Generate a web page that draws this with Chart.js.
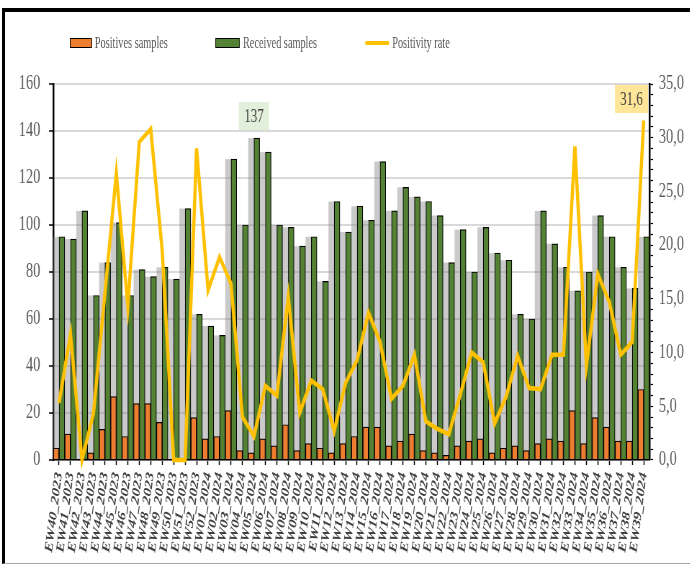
<!DOCTYPE html>
<html>
<head>
<meta charset="utf-8">
<script src="https://cdn.jsdelivr.net/npm/chart.js@4.4.0/dist/chart.umd.min.js"></script>
<style>
  body { margin: 0; background: #fff; width: 690px; height: 565px; overflow: hidden; position: relative; }
  #frame { position: absolute; left: 2px; top: 8px; width: 688px; height: 556px; box-sizing: border-box;
           border-top: 4px solid #000; border-left: 3px solid #000; border-bottom: 1px solid #a6a6a6; }
  /* the whole picture is horizontally condensed, so the chart is drawn wide and squeezed */
  #wrap { position: absolute; left: 0; top: 0; width: 958px; height: 565px; transform: scaleX(0.72); transform-origin: 0 0; }
  #legend { position: absolute; left: 70px; top: 33px; height: 20px; display: flex; align-items: center;
            transform: scaleX(0.606); transform-origin: 0 0; white-space: nowrap;
            font-family: 'Liberation Serif', serif; font-size: 17px; color: #595959; }
  .item { display: flex; align-items: center; margin-right: 79px; }
  .sw { height: 10px; box-sizing: border-box; border: 1.5px solid #000; margin-right: 5px; }
  .sw.line { height: 4px; border: none; border-radius: 2px; }
</style>
</head>
<body>
<div id="frame"></div>
<div id="wrap"><canvas id="chart"></canvas></div>
<div id="legend"></div>
<script>
const weeks = [
  'EW40_2023', 'EW41_2023', 'EW42_2023', 'EW43_2023', 'EW44_2023', 'EW45_2023', 'EW46_2023',
  'EW47_2023', 'EW48_2023', 'EW49_2023', 'EW50_2023', 'EW51_2023', 'EW52_2023',
  'EW01_2024', 'EW02_2024', 'EW03_2024', 'EW04_2024', 'EW05_2024', 'EW06_2024', 'EW07_2024',
  'EW08_2024', 'EW09_2024', 'EW10_2024', 'EW11_2024', 'EW12_2024', 'EW13_2024', 'EW14_2024',
  'EW15_2024', 'EW16_2024', 'EW17_2024', 'EW18_2024', 'EW19_2024', 'EW20_2024', 'EW21_2024',
  'EW22_2024', 'EW23_2024', 'EW24_2024', 'EW25_2024', 'EW26_2024', 'EW27_2024', 'EW28_2024',
  'EW29_2024', 'EW30_2024', 'EW31_2024', 'EW32_2024', 'EW33_2024', 'EW34_2024', 'EW35_2024',
  'EW36_2024', 'EW37_2024', 'EW38_2024', 'EW39_2024'
];

const positives = [5, 11, 0, 3, 13, 27, 10, 24, 24, 16, 0, 0, 18,
  9, 10, 21, 4, 3, 9, 6, 15, 4, 7, 5, 3, 7, 10, 14, 14, 6, 8, 11, 4, 3, 2, 6,
  8, 9, 3, 5, 6, 4, 7, 9, 8, 21, 7, 18, 14, 8, 8, 30];

const received = [95, 94, 106, 70, 84, 101, 70, 81, 78, 82, 77, 107, 62,
  57, 53, 128, 100, 137, 131, 100, 99, 91, 95, 76, 110, 97, 108, 102, 127, 106, 116, 112, 110, 104, 84, 98,
  80, 99, 88, 85, 62, 60, 106, 92, 82, 72, 80, 104, 95, 82, 73, 95];

// positivity rate (%), right axis
const positivity = [5.3, 11.7, 0, 4.3, 15.5, 26.7, 14.3, 29.6, 30.8, 19.5, 0, 0, 29.0,
  15.8, 18.9, 16.4, 4.0, 2.2, 6.9, 6.0, 15.2, 4.4, 7.4, 6.6, 2.7, 7.2, 9.3, 13.7, 11.0, 5.7, 6.9, 9.8, 3.6, 2.9, 2.4, 6.1,
  10.0, 9.1, 3.4, 5.9, 9.7, 6.7, 6.6, 9.8, 9.8, 29.2, 8.8, 17.3, 14.7, 9.8, 11.0, 31.6];

const serif = "'Liberation Serif', serif";
const fmt = v => v.toFixed(1).replace('.', ',');

// grey band behind each positives bar, as high as the received bar next to it
const greyShadow = {
  id: 'greyShadow',
  beforeDatasetsDraw(chart) {
    const ctx = chart.ctx;
    const pos = chart.getDatasetMeta(0).data;
    const rec = chart.getDatasetMeta(1).data;
    ctx.save();
    ctx.fillStyle = 'rgba(128,128,128,0.42)';
    pos.forEach((bar, i) => {
      const g = rec[i];
      ctx.fillRect(bar.x - bar.width / 2, g.y, bar.width, g.base - g.y);
    });
    ctx.restore();
  }
};

function drawBox(ctx, cx, bottom, w, h, fill, text) {
  ctx.fillStyle = fill;
  ctx.fillRect(cx - w / 2, bottom - h, w, h);
  ctx.fillStyle = '#404040';
  ctx.font = '18px ' + serif;
  ctx.textAlign = 'center';
  ctx.textBaseline = 'middle';
  ctx.fillText(text, cx, bottom - h / 2 + 1);
}

// boxed labels on the peak received count and the peak positivity rate
const callouts = {
  id: 'callouts',
  afterDatasetsDraw(chart) {
    const ctx = chart.ctx;
    const recBars = chart.getDatasetMeta(1).data;
    const ratePts = chart.getDatasetMeta(2).data;
    const iRec = received.indexOf(Math.max(...received));
    const iRate = positivity.indexOf(Math.max(...positivity));
    ctx.save();
    drawBox(ctx, recBars[iRec].x - 4, recBars[iRec].y - 8, 42, 28, '#E2EFDA', String(received[iRec]));
    drawBox(ctx, ratePts[iRate].x - 17, ratePts[iRate].y - 7.5, 46, 28, '#FFE699', fmt(positivity[iRate]));
    ctx.restore();
  }
};

const chart = new Chart(document.getElementById('chart'), {
  data: {
    labels: weeks,
    datasets: [
      {
        type: 'bar', label: 'Positives samples', data: positives, yAxisID: 'y', order: 1,
        backgroundColor: '#ED7D31', borderColor: '#000', borderWidth: 1.2,
        categoryPercentage: 1, barPercentage: 1
      },
      {
        type: 'bar', label: 'Received samples', data: received, yAxisID: 'y', order: 1,
        backgroundColor: '#548235', borderColor: '#000', borderWidth: 1.2,
        categoryPercentage: 1, barPercentage: 1
      },
      {
        type: 'line', label: 'Positivity rate', data: positivity, yAxisID: 'y1', order: 0,
        borderColor: '#FFC000', backgroundColor: '#FFC000', borderWidth: 4.5,
        pointRadius: 0, tension: 0, clip: false
      }
    ]
  },
  options: {
    responsive: true,
    maintainAspectRatio: false,
    animation: false,
    layout: { padding: { top: 84, left: 14, right: 0, bottom: 5 } },
    plugins: { legend: { display: false }, tooltip: { enabled: false } },
    scales: {
      x: {
        grid: { drawOnChartArea: false, offset: false, tickLength: 5, tickColor: '#000', tickWidth: 1.5 },
        border: { color: '#000', width: 1.5 },
        ticks: {
          autoSkip: false, minRotation: 80, maxRotation: 80, padding: 6, color: '#404040',
          font: { family: serif, size: 16, style: 'italic', weight: 'bold' }
        }
      },
      y: {
        position: 'left', min: 0, max: 160,
        ticks: { stepSize: 20, padding: 12, color: '#595959', font: { family: serif, size: 20 } },
        grid: { color: '#d9d9d9', lineWidth: 2, tickColor: '#000', tickLength: 6, tickWidth: 1.5 },
        border: { color: '#000', width: 2.5 }
      },
      y1: {
        position: 'right', min: 0, max: 35,
        ticks: {
          stepSize: 1, autoSkip: false, padding: 8, color: '#595959', font: { family: serif, size: 20 },
          callback: v => (Math.round(v) % 5 === 0 ? fmt(v) : '')
        },
        grid: { drawOnChartArea: false, tickColor: '#000', tickLength: 5, tickWidth: 1.2 },
        border: { color: '#000', width: 2.5 }
      }
    }
  },
  plugins: [greyShadow, callouts]
});

// html legend built from the datasets
const legend = document.getElementById('legend');
chart.data.datasets.forEach((ds, i) => {
  const item = document.createElement('div');
  item.className = 'item';
  const sw = document.createElement('span');
  sw.className = ds.type === 'line' ? 'sw line' : 'sw';
  sw.style.width = i === 0 ? '36px' : '40px';
  sw.style.background = ds.backgroundColor;
  const txt = document.createElement('span');
  txt.textContent = ds.label;
  item.appendChild(sw);
  item.appendChild(txt);
  legend.appendChild(item);
});
</script>
</body>
</html>
